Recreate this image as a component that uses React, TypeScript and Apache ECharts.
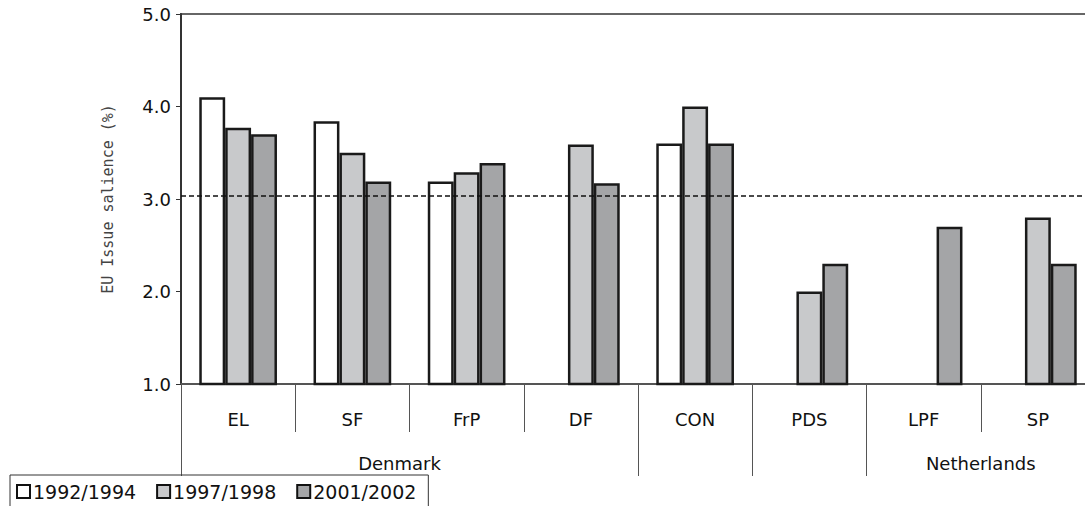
import React, { useEffect, useRef } from "react";
import * as echarts from "echarts";

const categories = ["EL", "SF", "FrP", "DF", "CON", "PDS", "LPF", "SP"];
const seriesNames = ["1992/1994", "1997/1998", "2001/2002"];
const values1992: (number | null)[] = [4.1, 3.84, 3.19, null, 3.6, null, null, null];
const values1997: (number | null)[] = [3.77, 3.5, 3.29, 3.59, 4.0, 2.0, null, 2.8];
const values2001: (number | null)[] = [3.7, 3.19, 3.39, 3.17, 3.6, 2.3, 2.7, 2.3];
const referenceLine = 3.03;
const yTicks = [1, 2, 3, 4, 5];
// country groups: [label, first category index, last category index]
const countryGroups: [string, number, number][] = [
  ["Denmark", 0, 3],
  ["", 4, 4],
  ["", 5, 5],
  ["Netherlands", 6, 7],
];
const groupStartIdx = countryGroups.map((g) => g[1]);

const colors = ["#ffffff", "#c8c9cb", "#a4a5a7"];
const FONT = "'DejaVu Sans', sans-serif";

export default function App() {
  const ref = useRef<HTMLDivElement>(null);
  useEffect(() => {
    if (!ref.current) return;
    const chart = echarts.init(ref.current, undefined, { renderer: "svg" });
    const data = [values1992, values1997, values2001];
    const option: any = {
      animation: false,
      backgroundColor: "#ffffff",
      grid: {
        left: 181,
        top: 14,
        right: 5,
        bottom: 122,
        show: true,
        borderColor: "#666",
        borderWidth: 2,
        backgroundColor: "transparent",
      },
      legend: {
        left: 10,
        top: 475,
        orient: "horizontal",
        data: seriesNames,
        icon: "rect",
        itemWidth: 13,
        itemHeight: 13,
        itemGap: 20,
        padding: [7, 12, 20, 6],
        borderColor: "#333",
        borderWidth: 1,
        textStyle: { fontFamily: FONT, fontSize: 19, color: "#111", padding: [0, 0, 0, -2] },
        itemStyle: { borderColor: "#111", borderWidth: 2 },
      },
      xAxis: [
        {
          type: "category",
          data: categories,
          axisLine: { show: true, lineStyle: { color: "#555", width: 2 } },
          axisTick: { show: true, interval: 0, length: 48, lineStyle: { color: "#555", width: 1 } },
          axisLabel: { interval: 0, margin: 26, fontFamily: FONT, fontSize: 18, color: "#111" },
        },
        {
          type: "category",
          data: categories,
          position: "bottom",
          axisLine: { show: false },
          axisLabel: { show: false },
          axisTick: {
            show: true,
            interval: (i: number) => groupStartIdx.includes(i),
            length: 92,
            lineStyle: { color: "#555", width: 1 },
          },
        },
      ],
      yAxis: {
        type: "value",
        min: yTicks[0],
        max: yTicks[yTicks.length - 1],
        interval: 1,
        name: "EU Issue salience (%)",
        nameLocation: "middle",
        nameGap: 66,
        nameTextStyle: { fontFamily: "'DejaVu Sans Mono', monospace", fontSize: 15, color: "#444" },
        axisLine: { show: true, lineStyle: { color: "#333", width: 2 } },
        axisTick: { show: true, length: 5, lineStyle: { color: "#333", width: 1 } },
        splitLine: { show: false },
        axisLabel: {
          margin: 10,
          fontFamily: FONT,
          fontSize: 18,
          color: "#111",
          formatter: (v: number) => v.toFixed(1),
        },
      },
      series: seriesNames.map((name, k) => ({
        name,
        type: "bar",
        data: data[k],
        barGap: "0%",
        barCategoryGap: "32%",
        itemStyle: { color: colors[k], borderColor: "#1a1a1a", borderWidth: 2.5 },
        ...(k === 2
          ? {
              markLine: {
                silent: true,
                symbol: ["none", "none"],
                label: { show: false },
                lineStyle: { color: "#111", type: [5, 3], width: 1.5 },
                data: [{ yAxis: referenceLine }],
              },
            }
          : {}),
      })),
    };
    chart.setOption(option);

    const boundary = (idx: number) => {
      const c = chart.convertToPixel({ xAxisIndex: 0 }, idx) as number;
      const next = chart.convertToPixel({ xAxisIndex: 0 }, Math.min(idx + 1, categories.length - 1)) as number;
      const band = idx + 1 < categories.length ? next - c : c - (chart.convertToPixel({ xAxisIndex: 0 }, idx - 1) as number);
      return { left: c - band / 2, right: c + band / 2 };
    };
    const baseY = chart.convertToPixel({ yAxisIndex: 0 }, yTicks[0]) as number;
    const graphics = countryGroups
      .filter((g) => g[0])
      .map((g) => {
        const x = (boundary(g[1]).left + boundary(g[2]).right) / 2;
        return {
          type: "text",
          x: g[1] === 0 ? x - 10 : x,
          y: baseY + 79,
          style: {
            text: g[0],
            fontFamily: FONT,
            fontSize: 18,
            fill: "#111",
            align: "center",
            verticalAlign: "middle",
          },
        };
      });
    chart.setOption({ graphic: graphics });
    return () => chart.dispose();
  }, []);
  return (
    <div style={{ position: "fixed", left: 0, top: 0, width: 1085, height: 506, overflow: "hidden" }}>
      <div ref={ref} style={{ width: 1100, height: 506 }} />
    </div>
  );
}
